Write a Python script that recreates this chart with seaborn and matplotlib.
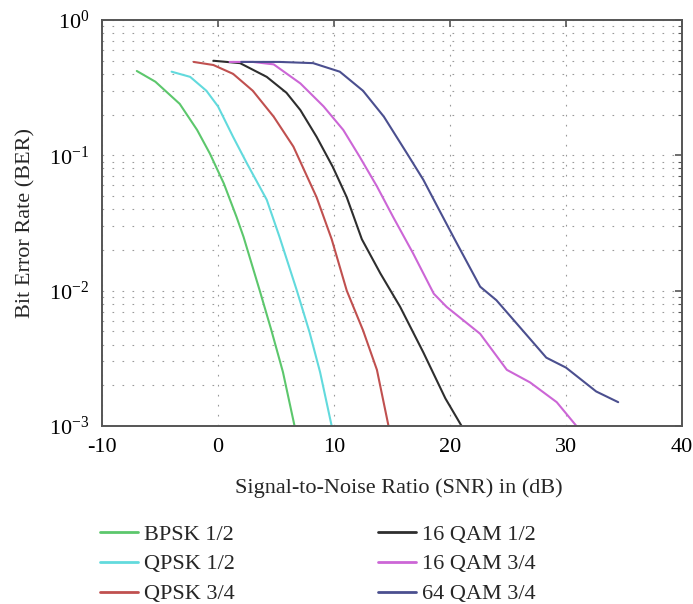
import numpy as np
import pandas as pd
import seaborn as sns
import matplotlib.pyplot as plt
from matplotlib.ticker import LogLocator, MultipleLocator, NullFormatter
from matplotlib.lines import Line2D

# ===========================================================
# Données
# ===========================================================

bpsk_12_x = [-7.0, -5.4, -3.3, -1.8, -0.7, 0.5, 1.6, 2.2, 3.6, 4.6, 5.6, 6.6]
bpsk_12_y = [0.42, 0.35, 0.24, 0.154, 0.103, 0.062, 0.035, 0.025, 0.010, 0.0051, 0.0025, 0.001]

qpsk_12_x = [-4.0, -2.4, -1.0, 0.0, 1.3, 2.5, 4.2, 5.3, 6.8, 7.9, 8.8, 9.8]
qpsk_12_y = [0.415, 0.38, 0.30, 0.23, 0.137, 0.087, 0.047, 0.025, 0.010, 0.0049, 0.0025, 0.001]

qpsk_34_x = [-2.1, -0.4, 1.3, 3.0, 4.8, 6.5, 8.5, 9.8, 11.1, 12.5, 13.7, 14.7]
qpsk_34_y = [0.49, 0.465, 0.40, 0.30, 0.193, 0.116, 0.049, 0.024, 0.010, 0.0051, 0.0026, 0.001]

qam16_12_x = [-0.4, 1.9, 4.2, 5.9, 7.1, 8.5, 9.9, 11.1, 12.4, 14.0, 15.7, 17.7, 19.6, 21.0]
qam16_12_y = [0.50, 0.48, 0.38, 0.29, 0.216, 0.137, 0.082, 0.049, 0.024, 0.0134, 0.0076, 0.0035, 0.0016, 0.001]

qam16_34_x = [1.0, 3.0, 4.8, 7.1, 9.1, 10.8, 12.2, 13.7, 15.1, 16.8, 18.6, 19.7, 22.6, 24.9, 26.9, 29.2, 30.9]
qam16_34_y = [0.49, 0.49, 0.47, 0.34, 0.23, 0.154, 0.098, 0.059, 0.035, 0.019, 0.0095, 0.0076, 0.0048, 0.0026, 0.0021, 0.0015, 0.001]

qam64_34_x = [2.0, 5.3, 8.2, 10.5, 12.5, 14.3, 16.3, 17.7, 19.1, 20.4, 22.6, 24.0, 26.0, 28.3, 30.0, 32.6, 34.5]
qam64_34_y = [0.49, 0.49, 0.48, 0.415, 0.30, 0.193, 0.103, 0.066, 0.039, 0.024, 0.0107, 0.0085, 0.0054, 0.0032, 0.0027, 0.0018, 0.0015]

labels = ['BPSK 1/2', 'QPSK 1/2', 'QPSK 3/4', '16 QAM 1/2', '16 QAM 3/4', '64 QAM 3/4']
colors = ['#5cc76c', '#62dadd', '#c0504f', '#2e2e2e', '#cc66d6', '#4b4f8f']

series = [(bpsk_12_x, bpsk_12_y), (qpsk_12_x, qpsk_12_y), (qpsk_34_x, qpsk_34_y),
          (qam16_12_x, qam16_12_y), (qam16_34_x, qam16_34_y), (qam64_34_x, qam64_34_y)]

df = pd.concat([pd.DataFrame({'SNR': x, 'BER': y, 'Mode': lab})
                for (x, y), lab in zip(series, labels)], ignore_index=True)

# ===========================================================
# Style
# ===========================================================

sns.set_theme(style='white')
plt.rcParams['font.family'] = ['Liberation Serif', 'DejaVu Serif']
plt.rcParams['mathtext.fontset'] = 'stix'
plt.rcParams['axes.unicode_minus'] = False

fig = plt.figure(figsize=(6.93, 6.04), dpi=100)
ax = fig.add_axes([102/693, 1-426/604, 580/693, 406/604])

sns.lineplot(data=df, x='SNR', y='BER', hue='Mode', hue_order=labels,
             palette=colors, sort=False, estimator=None, linewidth=1.5, legend=False, ax=ax)

ax.set_yscale('log')
ax.set_xlim(-10, 40)
ax.set_ylim(1e-3, 1)
ax.xaxis.set_major_locator(MultipleLocator(10))
ax.yaxis.set_major_locator(LogLocator(base=10, numticks=10))
ax.yaxis.set_minor_locator(LogLocator(base=10, subs=np.arange(2, 10), numticks=10))
ax.yaxis.set_minor_formatter(NullFormatter())

# grille pointillée façon MATLAB
ax.grid(True, which='major', axis='both', color='#9a9a9a', linewidth=0.8, linestyle=(0, (1.5, 7.5)))
ax.grid(True, which='minor', axis='y', color='#9a9a9a', linewidth=0.8, linestyle=(0, (1.5, 7.5)))

for s in ax.spines.values():
    s.set_color('#555555')
    s.set_linewidth(1.4)

ax.tick_params(which='both', direction='in', top=True, right=True, colors='#555555',
               labelcolor='black', labelsize=16, pad=9)
ax.tick_params(which='major', length=5, width=1.2)
ax.tick_params(which='minor', length=3, width=0.8)
ax.tick_params(axis='x', which='minor', length=0)

ax.set_xlabel('Signal-to-Noise Ratio (SNR) in (dB)', fontsize=16, labelpad=15, x=0.512)
ax.set_ylabel('Bit Error Rate (BER)', fontsize=16, labelpad=10)

handles = [Line2D([], [], color=c, linewidth=2) for c in colors]
fig.legend(handles, labels, loc='upper left', bbox_to_anchor=(100/693, 1-524/604),
           ncol=2, frameon=False, fontsize=16, handlelength=1.7, handletextpad=0.28,
           columnspacing=6.45, labelspacing=0.42, borderpad=0, borderaxespad=0)

plt.savefig('out.png', dpi=100)
